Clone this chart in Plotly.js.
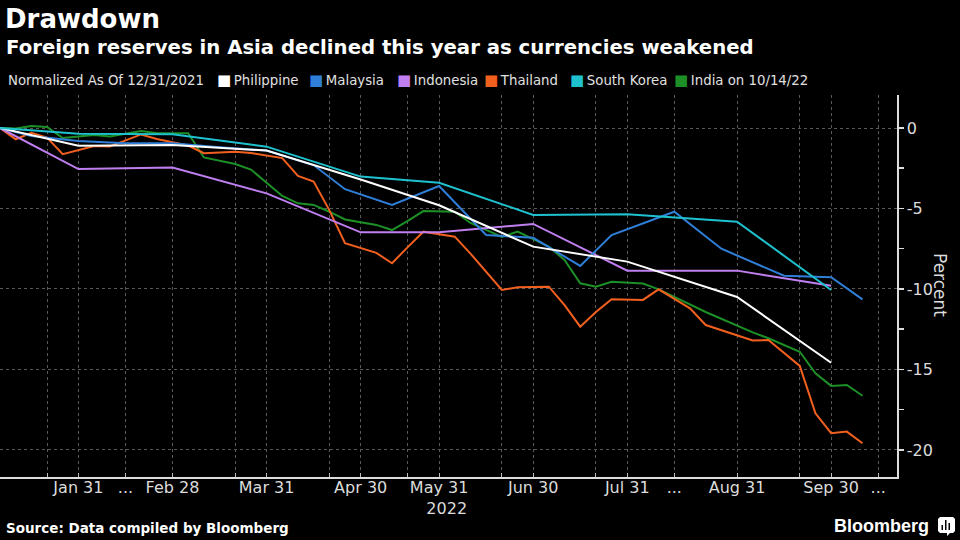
<!DOCTYPE html>
<html>
<head>
<meta charset="utf-8">
<script src="https://cdn.plot.ly/plotly-3.0.1.min.js"></script>
<style>
html,body{margin:0;padding:0;background:#000;}
#chart{width:960px;height:540px;}
</style>
</head>
<body>
<div id="chart"></div>
<script>
// ---- axis observation dates (union of all series' dates, equally spaced as on the original) ----
const axisDates = [
  '2021-12-31','2022-01-07','2022-01-14','2022-01-21','2022-01-28','2022-01-31',
  '2022-02-04','2022-02-11','2022-02-15','2022-02-18','2022-02-25','2022-02-28',
  '2022-03-04','2022-03-11','2022-03-15','2022-03-18','2022-03-25','2022-03-31',
  '2022-04-01','2022-04-08','2022-04-15','2022-04-22','2022-04-29','2022-04-30',
  '2022-05-06','2022-05-13','2022-05-20','2022-05-27','2022-05-31',
  '2022-06-03','2022-06-10','2022-06-15','2022-06-17','2022-06-24','2022-06-30',
  '2022-07-01','2022-07-08','2022-07-15','2022-07-22','2022-07-29','2022-07-31',
  '2022-08-05','2022-08-12','2022-08-15','2022-08-19','2022-08-26','2022-08-30','2022-08-31',
  '2022-09-02','2022-09-09','2022-09-15','2022-09-16','2022-09-23','2022-09-30',
  '2022-10-07','2022-10-14','2022-10-21'
];

// ---- monthly series ----
const monthlyDates = ['2021-12-31','2022-01-31','2022-02-28','2022-03-31','2022-04-30','2022-05-31','2022-06-30','2022-07-31','2022-08-31','2022-09-30'];
const philippine = [0, -1.1, -1.06, -1.4, -3.2, -4.8, -7.37, -8.3, -10.5, -14.58];
const indonesia  = [0, -2.55, -2.46, -4.06, -6.48, -6.48, -5.96, -8.86, -8.86, -9.8];
const southKorea = [0, -0.35, -0.39, -1.16, -3.02, -3.4, -5.4, -5.36, -5.82, -10.06];

// ---- semi-monthly series ----
const malaysiaDates = ['2021-12-31','2022-01-14','2022-01-31','2022-02-15','2022-02-28','2022-03-15','2022-03-31',
  '2022-04-15','2022-04-29','2022-05-13','2022-05-31','2022-06-15','2022-06-30','2022-07-15','2022-07-29',
  '2022-08-15','2022-08-30','2022-09-15','2022-09-30','2022-10-14'];
const malaysia = [0, -0.5, -0.8, -0.95, -0.95, -1.2, -1.4, -2.3, -3.8, -4.78, -3.6, -6.65, -6.82, -8.57, -6.65,
  -5.2, -7.5, -9.18, -9.27, -10.65];

// ---- weekly series ----
const weeklyDates = ['2021-12-31','2022-01-07','2022-01-14','2022-01-21','2022-01-28',
  '2022-02-04','2022-02-11','2022-02-18','2022-02-25','2022-03-04','2022-03-11','2022-03-18','2022-03-25',
  '2022-04-01','2022-04-08','2022-04-15','2022-04-22','2022-04-29','2022-05-06','2022-05-13','2022-05-20','2022-05-27',
  '2022-06-03','2022-06-10','2022-06-17','2022-06-24','2022-07-01','2022-07-08','2022-07-15','2022-07-22','2022-07-29',
  '2022-08-05','2022-08-12','2022-08-19','2022-08-26','2022-09-02','2022-09-09','2022-09-16','2022-09-23','2022-09-30',
  '2022-10-07','2022-10-14'];
const thailand = [0, -0.7, -0.3, -0.6, -1.63,
  -1.12, -1.15, -0.4, -0.68, -1.09, -1.57, -1.47, -1.55,
  -1.87, -2.98, -3.32, -5.1, -7.15, -7.76, -8.4, -7.4, -6.44,
  -6.75, -7.8, -10.06, -9.9, -9.86, -11.0, -12.34, -11.43, -10.64,
  -10.68, -10.02, -11.2, -12.24, -13.2, -13.17, -14.78, -17.72, -18.96,
  -18.86, -19.58];
const india = [0, -0.03, 0.12, 0.06, -0.62,
  -0.43, -0.53, -0.19, -0.33, -0.33, -1.83, -2.24, -2.58,
  -4.22, -4.68, -4.78, -5.2, -5.68, -6.02, -6.34, -5.77, -5.16,
  -5.2, -5.9, -6.77, -6.44, -7.37, -8.2, -9.65, -9.86, -9.55,
  -9.66, -10.02, -10.97, -11.43, -12.7, -13.06, -13.9, -15.24, -16.02,
  -15.96, -16.63];

// ---- names / colours / ticks ----
const legendTitle  = 'Normalized As Of 12/31/2021';
const seriesNames  = ['Philippine', 'Malaysia', 'Indonesia', 'Thailand', 'South Korea', 'India on 10/14/22'];
const seriesColors = ['#ffffff', '#2f7fd8', '#c07ff0', '#f2601f', '#1ec2cf', '#1d8f27'];
const xTickDates  = ['2022-01-21','2022-01-31','2022-02-15','2022-02-28','2022-03-18','2022-03-31','2022-04-22','2022-04-30',
  '2022-05-20','2022-05-31','2022-06-17','2022-06-30','2022-07-22','2022-07-31','2022-08-15','2022-08-31',
  '2022-09-16','2022-09-30','2022-10-21'];
const xTickLabels = ['', 'Jan 31', '...', 'Feb 28', '', 'Mar 31', '', 'Apr 30', '', 'May 31<br>\u00a0\u00a0\u00a02022', '', 'Jun 30',
  '', 'Jul 31', '...', 'Aug 31', '', 'Sep 30', '...'];
const yTickVals  = [0, -5, -10, -15, -20];
const yTickText  = ['0', '-5', '-10', '-15', '-20'];
const yMinorVals = [-2.5, -7.5, -12.5, -17.5];

// positions on the (equally spaced) observation axis
const pos = d => axisDates.indexOf(d);

const seriesData = [
  [monthlyDates, philippine],
  [malaysiaDates, malaysia],
  [monthlyDates, indonesia],
  [weeklyDates, thailand],
  [monthlyDates, southKorea],
  [weeklyDates, india]
];
const drawOrder = [5, 3, 2, 1, 0, 4];
const traces = drawOrder.map(i => ({
  type: 'scatter', mode: 'lines', name: seriesNames[i],
  x: seriesData[i][0].map(pos), y: seriesData[i][1],
  line: {color: seriesColors[i], width: 2},
  hoverinfo: 'skip'
}));

// pixel helpers for text placement (plot area spans 0..897 px wide, 95..477 px tall)
const PL = 0, PR = 897, PT = 95, PB = 477;
const px = v => (v - PL) / (PR - PL);
const py = v => (PB - v) / (PB - PT);

const FONT = 'DejaVu Sans, Verdana, sans-serif';

// legend row (key squares + names), laid out like the original
const legendLeft = [218, 310, 398, 485, 571, 675];
const legendAnns = [{
  text: legendTitle, xref: 'paper', yref: 'paper', x: px(6), y: py(80), xanchor: 'left', yanchor: 'middle',
  showarrow: false, font: {family: FONT, size: 13.3, color: '#e0e0e0'}
}].concat(seriesNames.map((n, i) => ({
  text: '<span style="color:' + seriesColors[i] + ';font-size:15px">\u25A0</span>\u2009' + n,
  xref: 'paper', yref: 'paper', x: px(legendLeft[i] - 3), y: py(80), xanchor: 'left', yanchor: 'middle',
  showarrow: false, font: {family: FONT, size: 13.3, color: '#e0e0e0'}
})));

const layout = {
  width: 960, height: 540,
  paper_bgcolor: '#000', plot_bgcolor: '#000',
  margin: {l: PL, r: 960 - PR, t: PT, b: 540 - PB, pad: 0},
  showlegend: false,
  title: {
    text: '<b>Drawdown</b>',
    font: {family: FONT, size: 26, color: '#ffffff'},
    x: 5 / 960, xanchor: 'left', xref: 'container',
    y: 1 - 19 / 540, yanchor: 'middle', yref: 'container'
  },
  xaxis: {
    type: 'linear', range: [0, 57.2],
    tickmode: 'array', tickvals: xTickDates.map(pos), ticktext: xTickLabels,
    ticks: 'inside', ticklen: 4, tickcolor: '#bbbbbb', tickwidth: 1,
    ticklabelstandoff: -5,
    showgrid: true, gridcolor: '#585858', griddash: 'dot', gridwidth: 1,
    showline: true, linecolor: '#dddddd', linewidth: 1.5,
    zeroline: false,
    tickfont: {family: FONT, size: 16, color: '#dcdcdc'},
    fixedrange: true
  },
  yaxis: {
    side: 'right', range: [-21.68, 2.05],
    tickmode: 'array', tickvals: yTickVals, ticktext: yTickText,
    ticks: 'outside', ticklen: 5, tickcolor: '#dddddd', tickwidth: 1.5,
    minor: {tickmode: 'array', tickvals: yMinorVals, ticks: 'outside', ticklen: 5, tickcolor: '#dddddd', tickwidth: 1.5, showgrid: false},
    showgrid: true, gridcolor: '#585858', griddash: 'dot', gridwidth: 1,
    showline: true, linecolor: '#dddddd', linewidth: 1.5,
    zeroline: false,
    tickfont: {family: FONT, size: 16, color: '#dcdcdc'},
    fixedrange: true
  },
  annotations: [
    {text: '<b>Foreign reserves in Asia declined this year as currencies weakened</b>',
     xref: 'paper', yref: 'paper', x: px(4), y: py(47), xanchor: 'left', yanchor: 'middle', showarrow: false,
     font: {family: FONT, size: 19.7, color: '#ffffff'}},
    {text: 'Percent',
     xref: 'paper', yref: 'paper', x: px(940), y: py(285), xanchor: 'center', yanchor: 'middle', showarrow: false,
     textangle: 90, font: {family: FONT, size: 17, color: '#dcdcdc'}},
    {text: '<b>Source: Data compiled by Bloomberg</b>',
     xref: 'paper', yref: 'paper', x: px(4), y: py(528), xanchor: 'left', yanchor: 'middle', showarrow: false,
     font: {family: FONT, size: 13.5, color: '#ffffff'}},
    {text: '<b>Bloomberg</b>',
     xref: 'paper', yref: 'paper', x: px(931), y: py(526), xanchor: 'right', yanchor: 'middle', showarrow: false,
     font: {family: 'Liberation Sans, Arial, sans-serif', size: 18, color: '#ffffff'}}
  ].concat(legendAnns),
  shapes: [
    {type: 'path', xref: 'paper', yref: 'paper',
     path: 'M ' + px(940) + ',' + py(517) + ' L ' + px(953) + ',' + py(517) + ' L ' + px(955) + ',' + py(519) +
           ' L ' + px(955) + ',' + py(531) + ' L ' + px(953) + ',' + py(533) + ' L ' + px(950) + ',' + py(533) +
           ' L ' + px(947) + ',' + py(536) + ' L ' + px(947) + ',' + py(533) + ' L ' + px(940) + ',' + py(533) +
           ' L ' + px(938) + ',' + py(531) + ' L ' + px(938) + ',' + py(519) + ' Z',
     fillcolor: '#ffffff', line: {width: 0}},
    {type: 'rect', xref: 'paper', yref: 'paper', x0: px(941.5), x1: px(943), y0: py(530), y1: py(525), fillcolor: '#000', line: {width: 0}},
    {type: 'rect', xref: 'paper', yref: 'paper', x0: px(945), x1: px(946.5), y0: py(530), y1: py(520), fillcolor: '#000', line: {width: 0}},
    {type: 'rect', xref: 'paper', yref: 'paper', x0: px(948.5), x1: px(950), y0: py(530), y1: py(523), fillcolor: '#000', line: {width: 0}}
  ]
};

Plotly.newPlot('chart', traces, layout, {staticPlot: true, displayModeBar: false});
</script>
</body>
</html>
